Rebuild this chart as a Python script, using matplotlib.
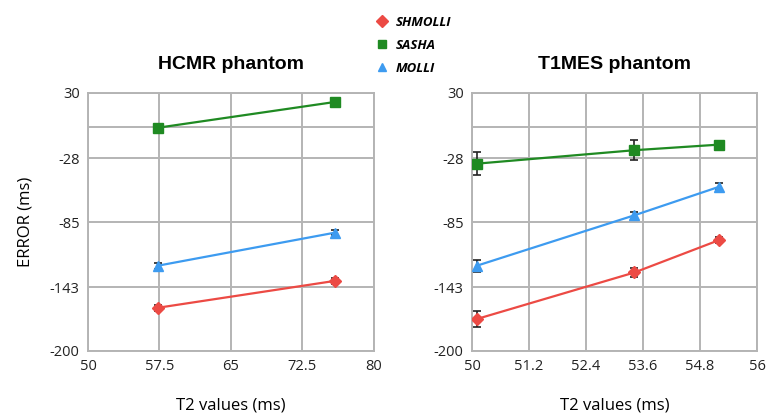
import matplotlib
matplotlib.use("Agg")
import matplotlib.pyplot as plt
from matplotlib.lines import Line2D

# HCMR phantom
hcmr_t2 = [57.3, 75.9]
hcmr_shmolli = [-161.5, -137.5]
hcmr_sasha = [-1.0, 22.0]
hcmr_molli = [-124.0, -94.5]
hcmr_shmolli_err = [2.5, 2.5]
hcmr_sasha_err = [2.5, 2.5]
hcmr_molli_err = [2.5, 2.5]

# T1MES phantom
t1mes_t2 = [50.1, 53.42, 55.21]
t1mes_shmolli = [-171.5, -130.0, -101.0]
t1mes_sasha = [-33.0, -21.0, -16.0]
t1mes_molli = [-124.0, -79.0, -53.5]
t1mes_shmolli_err = [7.0, 4.0, 3.0]
t1mes_sasha_err = [10.0, 9.0, 3.0]
t1mes_molli_err = [5.5, 3.0, 3.0]

yticks = [30, -28, -85, -143, -200]
hcmr_xticks = [50, 57.5, 65, 72.5, 80]
t1mes_xticks = [50, 51.2, 52.4, 53.6, 54.8, 56]

names = ['SHMOLLI', 'SASHA', 'MOLLI']
colors = ['#ec4a44', '#1f8a22', '#3d9bf0']
markers = ['D', 's', '^']

fig = plt.figure(figsize=(7.69, 4.18), dpi=100)
ax1 = fig.add_axes([88/769, 67/418, 286/769, 258/418])
ax2 = fig.add_axes([472/769, 67/418, 285/769, 258/418])

panels = [
    (ax1, hcmr_t2, [hcmr_shmolli, hcmr_sasha, hcmr_molli],
     [hcmr_shmolli_err, hcmr_sasha_err, hcmr_molli_err], hcmr_xticks, 'HCMR phantom'),
    (ax2, t1mes_t2, [t1mes_shmolli, t1mes_sasha, t1mes_molli],
     [t1mes_shmolli_err, t1mes_sasha_err, t1mes_molli_err], t1mes_xticks, 'T1MES phantom'),
]

for ax, xs, series, errs, xt, title in panels:
    for ys, es, c, m in zip(series, errs, colors, markers):
        ax.plot(xs, ys, color=c, lw=1.6, zorder=3)
        ax.errorbar(xs, ys, yerr=es, fmt=m, color=c, ms=6.5, mec=c,
                    ecolor='#222222', elinewidth=1.2, capsize=3, capthick=1.2, zorder=4)
    ax.set_xlim(xt[0], xt[-1])
    ax.set_ylim(-200, 30)
    ax.set_xticks(xt)
    ax.set_xticklabels([('%g' % v) for v in xt])
    ax.set_yticks(yticks)
    ax.set_yticklabels([str(v) for v in yticks])
    for v in xt:
        ax.axvline(v, color='#b4b4b4', lw=1.4, zorder=1)
    for v in yticks + [0]:
        ax.axhline(v, color='#b4b4b4', lw=1.4, zorder=1)
    for s in ax.spines.values():
        s.set_color('#b4b4b4')
        s.set_linewidth(1.4)
    ax.tick_params(length=0, labelsize=10.5, pad=6, labelcolor='#222222')
    for lab in ax.get_xticklabels() + ax.get_yticklabels():
        lab.set_family('Open Sans')
    ax.set_title(title, fontsize=14, fontweight='bold', family='Liberation Sans', pad=17)
    ax.set_xlabel('T2 values (ms)', fontsize=12, family='Open Sans', labelpad=17)

ax1.set_ylabel('ERROR (ms)', fontsize=12, family='Open Sans', labelpad=12)

handles = [Line2D([], [], ls='none', marker=m, color=c, ms=6) for m, c in zip(markers, colors)]
fig.legend(handles, names, loc='upper left', bbox_to_anchor=(360/769, 0.99), frameon=False,
           prop={'family': 'Open Sans', 'weight': 'bold', 'style': 'italic', 'size': 9.5},
           handletextpad=0.3, labelspacing=0.75, handlelength=1.5)

fig.savefig('out.png', dpi=100)
